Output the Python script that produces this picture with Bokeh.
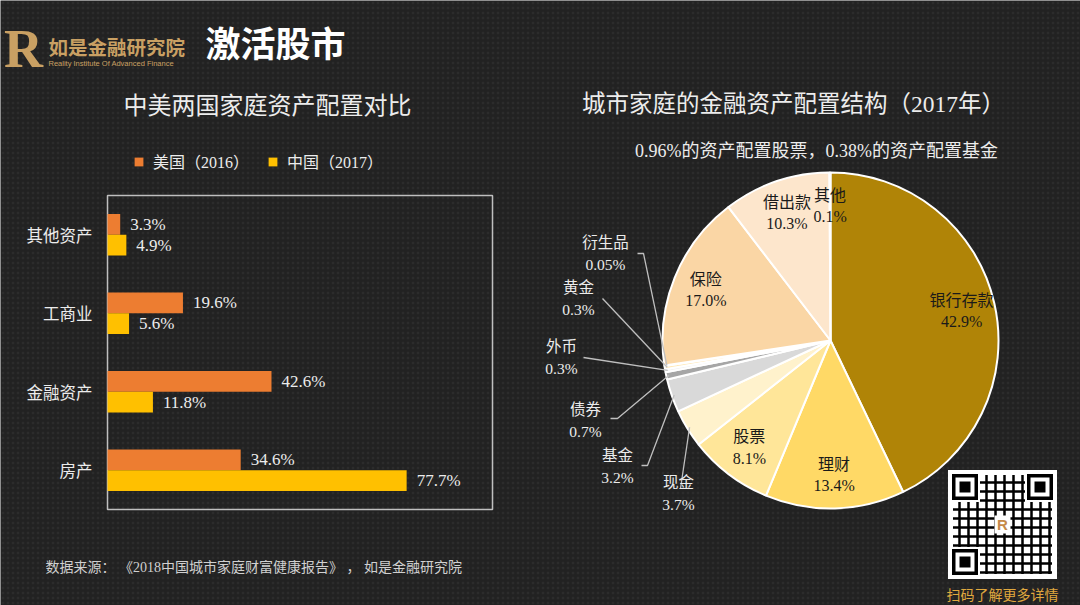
import math
from bokeh.plotting import figure
from bokeh.models import (ColumnDataSource, Range1d, Label, Legend, LegendItem)
from bokeh.core.properties import value
from bokeh.embed import file_html
from bokeh.resources import INLINE

# ---------------- data ----------------
bar_categories = ["其他资产", "工商业", "金融资产", "房产"]
us_2016 = [3.3, 19.6, 42.6, 34.6]
cn_2017 = [4.9, 5.6, 11.8, 77.7]
series_names = ["美国（2016）", "中国（2017）"]

pie_labels = ["银行存款", "理财", "股票", "现金", "基金", "债券", "外币", "黄金", "衍生品", "保险", "借出款", "其他"]
pie_values = [42.9, 13.4, 8.1, 3.7, 3.2, 0.7, 0.3, 0.3, 0.05, 17.0, 10.3, 0.1]
pie_value_text = ["42.9%", "13.4%", "8.1%", "3.7%", "3.2%", "0.7%", "0.3%", "0.3%", "0.05%", "17.0%", "10.3%", "0.1%"]

# ---------------- styles ----------------
W, H = 1080, 605
BG = "#222222"
CJK = "Noto Sans CJK SC"
MIX = "'Liberation Serif', 'Noto Sans CJK SC'"
ORANGE = "#ED7D31"
YELLOW = "#FFC000"
GOLD = "#C9A063"
TXT = "#ececec"
pie_colors = ["#B08407", "#FFD966", "#FFE699", "#FFF2CC", "#D9D9D9", "#A6A6A6",
              "#F2F2F2", "#FFE9B8", "#FBE5D6", "#FAD6A5", "#FDE6CC", "#FFF1E0"]
inside = {"银行存款", "理财", "股票", "保险", "借出款", "其他"}


def Y(cy):            # page pixel (top-down) -> plot y (bottom-up)
    return H - cy


# bar-chart box on the page (pixels) and value scale
BOX_L, BOX_R, BOX_T, BOX_B = 107, 492, 195, 509
VMAX = 100.0
px_per_val = (BOX_R - BOX_L) / VMAX
n = len(bar_categories)
px_per_cat = (BOX_B - BOX_T) / n

p = figure(width=W, height=H, x_range=Range1d(0, W), y_range=Range1d(0, H),
           x_axis_type=None, y_axis_type=None, min_border=0, title=None,
           toolbar_location=None, output_backend="svg",
           background_fill_color=BG, border_fill_color=BG, outline_line_color=None)
p.grid.visible = False
# value axis range and category-index range for the bar chart
p.extra_x_ranges = {"val": Range1d(-BOX_L / px_per_val, (W - BOX_L) / px_per_val)}
cat_lo = -(H - BOX_B) / px_per_cat - 0.5
p.extra_y_ranges = {"cat": Range1d(cat_lo, cat_lo + H / px_per_cat)}

# subtle background texture
p.quad(left=0, right=W, bottom=0, top=H, fill_alpha=0, line_color=None,
       hatch_pattern="dot", hatch_color="#2c2c2c", hatch_scale=5, hatch_weight=1.5)

# ---------------- bar chart ----------------
ypos = [n - 1 - i for i in range(n)]      # first category on top
src = ColumnDataSource(dict(cat=bar_categories, y=ypos, zero=[0] * n, us=us_2016, cn=cn_2017,
                            us_t=["%.1f%%" % v for v in us_2016],
                            cn_t=["%.1f%%" % v for v in cn_2017],
                            y_us=[v + 0.132 for v in ypos], y_cn=[v - 0.132 for v in ypos]))
BH = 0.262
p.quad(left=0, right=VMAX, bottom=-0.5, top=n - 0.5, fill_alpha=0, line_color="#bfbfbf",
       line_width=1.5, x_range_name="val", y_range_name="cat")
r_us = p.hbar(y="y_us", right="us", left=0, height=BH, source=src, fill_color=ORANGE,
              line_color=None, x_range_name="val", y_range_name="cat")
r_cn = p.hbar(y="y_cn", right="cn", left=0, height=BH, source=src, fill_color=YELLOW,
              line_color=None, x_range_name="val", y_range_name="cat")
for col in ("us", "cn"):
    p.text(x=col, y="y_" + col, text=col + "_t", source=src, x_offset=10,
           text_baseline="middle", text_align="left", x_range_name="val", y_range_name="cat",
           text_font=value("Liberation Serif"), text_font_size="17px", text_color=TXT)
# category labels (left of the box)
p.text(x="zero", y="y", text="cat", source=src, x_offset=-15, text_align="right",
       text_baseline="middle", x_range_name="val", y_range_name="cat",
       text_font=value(CJK), text_font_size="16.5px", text_color=TXT)

legend = Legend(items=[LegendItem(label=series_names[0], renderers=[r_us]),
                       LegendItem(label=series_names[1], renderers=[r_cn])],
                location=(133, 432), orientation="horizontal",
                background_fill_alpha=0, border_line_color=None,
                label_text_color=TXT, label_text_font=MIX, label_text_font_size="16px",
                glyph_width=11, glyph_height=11, label_standoff=9, spacing=18,
                padding=0, margin=0)
p.add_layout(legend)

# ---------------- header / footer texts ----------------
p.add_layout(Label(x=23, y=Y(48), text="R", text_font="Liberation Serif", text_font_style="bold",
                   text_font_size="54px", text_color=GOLD, text_align="center", text_baseline="middle"))
p.add_layout(Label(x=48, y=Y(46), text="如是金融研究院", text_font=CJK, text_font_style="bold",
                   text_font_size="19.5px", text_color=GOLD, text_baseline="middle"))
p.add_layout(Label(x=48, y=Y(63), text="Reality Institute Of Advanced Finance", text_font="Liberation Sans",
                   text_font_size="7.5px", text_color=GOLD, text_baseline="middle"))
p.add_layout(Label(x=275, y=Y(41), text="激活股市", text_font=CJK, text_font_style="bold",
                   text_font_size="35px", text_color="#ffffff", text_align="center", text_baseline="middle"))
p.add_layout(Label(x=267, y=Y(103), text="中美两国家庭资产配置对比", text_font=CJK,
                   text_font_size="24px", text_color=TXT, text_align="center", text_baseline="middle"))
p.add_layout(Label(x=45, y=Y(567), text="数据来源：  《2018中国城市家庭财富健康报告》 ， 如是金融研究院", text_font=MIX,
                   text_font_size="14px", text_color="#d0d0d0", text_baseline="middle"))

# ---------------- pie chart ----------------
PCX, PCY, PR = 830, Y(340), 168
total = sum(pie_values)
starts, ends, mids = [], [], []
cum = 0.0
for v in pie_values:
    a0 = math.pi / 2 - 2 * math.pi * cum / total
    cum += v
    a1 = math.pi / 2 - 2 * math.pi * cum / total
    starts.append(a0)
    ends.append(a1)
    mids.append((a0 + a1) / 2)

psrc = ColumnDataSource(dict(label=pie_labels, val=pie_values, start=starts, end=ends, color=pie_colors))
p.wedge(x=PCX, y=PCY, radius=PR, start_angle="start", end_angle="end", direction="clock",
        fill_color="color", line_color="white", line_width=2, source=psrc)

ix, iy, itxt = [], [], []
for lab, pct, m in zip(pie_labels, pie_value_text, mids):
    if lab in inside:
        ix.append(PCX + 0.80 * PR * math.cos(m))
        iy.append(PCY + 0.80 * PR * math.sin(m))
        itxt.append(lab + "\n" + pct)
p.text(x=ix, y=iy, text=itxt, text_align="center", text_baseline="middle",
       text_font=value(MIX), text_font_size="16px", text_color="#1a1a1a", text_line_height=1.25)

# outside labels with leader lines (layout positions in page pixels)
outside_pos = {"衍生品": (605, 253), "黄金": (578, 298), "外币": (561, 357),
               "债券": (585, 420), "基金": (617, 466), "现金": (678, 493)}
leader_start = {"衍生品": [(637, 253), (643, 253)], "黄金": [(602, 298)], "外币": [(583, 357)],
                "债券": [(610, 418), (617, 418)], "基金": [(641, 465), (647, 465)], "现金": [(680, 488)]}
ox, oy, otxt, lxs, lys = [], [], [], [], []
for lab, pct, m in zip(pie_labels, pie_value_text, mids):
    if lab in outside_pos:
        cx, cy = outside_pos[lab]
        ox.append(cx)
        oy.append(Y(cy))
        otxt.append(lab + "\n" + pct)
        pts = [(qx_, Y(qy_)) for qx_, qy_ in leader_start[lab]]
        pts.append((PCX + 0.985 * PR * math.cos(m), PCY + 0.985 * PR * math.sin(m)))
        lxs.append([q[0] for q in pts])
        lys.append([q[1] for q in pts])
p.multi_line(xs=lxs, ys=lys, line_color="#bfbfbf", line_width=1.3)
p.text(x=ox, y=oy, text=otxt, text_align="center", text_baseline="middle",
       text_font=value(MIX), text_font_size="15.5px", text_color=TXT, text_line_height=1.25)

p.add_layout(Label(x=793, y=Y(103), text="城市家庭的金融资产配置结构（2017年）", text_font=MIX,
                   text_font_size="23.5px", text_color=TXT, text_align="center", text_baseline="middle"))
p.add_layout(Label(x=816, y=Y(150), text="0.96%的资产配置股票，0.38%的资产配置基金", text_font=MIX,
                   text_font_size="18px", text_color=TXT, text_align="center", text_baseline="middle"))

# ---------------- QR-code placeholder ----------------
qx, qy, QS = 1002, Y(524), 109
p.rect(x=qx, y=qy, width=QS, height=QS, fill_color="white", line_color=None)
p.rect(x=qx, y=qy, width=QS - 10, height=QS - 10, fill_color="white", line_color=None,
       hatch_pattern="cross", hatch_color="black", hatch_scale=9, hatch_weight=2.5)
for dx, dy in ((-1, 1), (1, 1), (-1, -1)):
    fx = qx + dx * (QS / 2 - 4 - 13)
    fy = qy + dy * (QS / 2 - 4 - 13)
    p.rect(x=fx, y=fy, width=30, height=30, fill_color="white", line_color=None)
    p.rect(x=fx, y=fy, width=26, height=26, fill_color="black", line_color=None)
    p.rect(x=fx, y=fy, width=19, height=19, fill_color="white", line_color=None)
    p.rect(x=fx, y=fy, width=11, height=11, fill_color="black", line_color=None)
p.rect(x=qx, y=qy, width=16, height=18, fill_color="white", line_color=None)
p.add_layout(Label(x=qx, y=qy, text="R", text_font="Liberation Sans", text_font_style="bold",
                   text_font_size="15px", text_color="#C68A4A", text_align="center", text_baseline="middle"))
p.add_layout(Label(x=1002, y=Y(593), text="扫码了解更多详情", text_font=CJK,
                   text_font_size="14px", text_color="#E0A83E", text_align="center", text_baseline="middle"))

open("out.html", "w").write(file_html(p, INLINE))
